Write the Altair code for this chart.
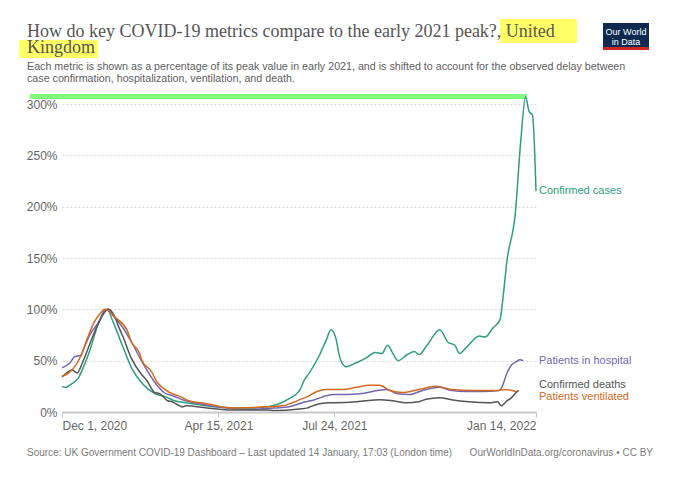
import altair as alt
import pandas as pd

# ---------------- data ----------------
series_names = ["Confirmed cases", "Patients in hospital", "Confirmed deaths", "Patients ventilated"]
series_colors = ["#2f9e83", "#7467b0", "#555555", "#d4691f"]

cases_dates = ["2020-12-01", "2020-12-04", "2020-12-10", "2020-12-15", "2020-12-21", "2020-12-25",
               "2021-01-01", "2021-01-07", "2021-01-09", "2021-01-14", "2021-01-22", "2021-01-30",
               "2021-02-08", "2021-02-19", "2021-02-28", "2021-03-08", "2021-03-18", "2021-03-30",
               "2021-04-13", "2021-04-27", "2021-05-16", "2021-05-27", "2021-06-04", "2021-06-15",
               "2021-06-24", "2021-06-28", "2021-07-03", "2021-07-11", "2021-07-17", "2021-07-21",
               "2021-07-25", "2021-07-29", "2021-08-03", "2021-08-12", "2021-08-21", "2021-08-28",
               "2021-09-03", "2021-09-08", "2021-09-12", "2021-09-17", "2021-09-25", "2021-10-01",
               "2021-10-05", "2021-10-12", "2021-10-23", "2021-10-30", "2021-11-05", "2021-11-09",
               "2021-11-15", "2021-11-26", "2021-12-01", "2021-12-08", "2021-12-14", "2021-12-16",
               "2021-12-20", "2021-12-27", "2022-01-01", "2022-01-05", "2022-01-08", "2022-01-11",
               "2022-01-14"]
cases_vals = [25, 24, 28, 33, 48, 60,
              85, 99, 100, 88, 65, 43,
              28, 18, 15, 11, 9, 7,
              5, 4, 4, 5, 7, 13,
              21, 31, 39, 55, 70, 80,
              73, 52, 44, 48, 53, 58,
              57, 65, 58, 50, 56, 59,
              56, 65, 80, 68, 65, 57,
              63, 74, 73, 82, 90, 106,
              148, 192, 266, 307, 293, 289,
              215]

hosp_dates = ["2020-12-01", "2020-12-08", "2020-12-12", "2020-12-17", "2020-12-21", "2020-12-25",
              "2021-01-03", "2021-01-07", "2021-01-10", "2021-01-14", "2021-01-22", "2021-01-31",
              "2021-02-08", "2021-02-19", "2021-02-27", "2021-03-06", "2021-03-15", "2021-03-30",
              "2021-04-13", "2021-05-12", "2021-06-02", "2021-06-15", "2021-06-26", "2021-07-07",
              "2021-07-18", "2021-07-23", "2021-08-03", "2021-08-17", "2021-08-30", "2021-09-07",
              "2021-09-16", "2021-09-27", "2021-10-08", "2021-10-23", "2021-11-02", "2021-11-15",
              "2021-11-29", "2021-12-13", "2021-12-15", "2021-12-20", "2021-12-24", "2021-12-28",
              "2021-12-31", "2022-01-03"]
hosp_vals = [43, 48, 54, 55, 65, 75,
             90, 99, 100, 94, 83, 66,
             49, 29, 19, 16, 12, 8,
             5, 2.5, 4, 5, 9, 12,
             16, 17, 17, 18, 21, 22,
             18, 17, 21, 24, 21, 20,
             20, 21, 23, 38, 46, 49,
             51, 50]

deaths_dates = ["2020-12-01", "2020-12-10", "2020-12-14", "2020-12-19", "2020-12-27", "2021-01-03",
                "2021-01-10", "2021-01-14", "2021-01-20", "2021-01-22", "2021-01-30", "2021-02-08",
                "2021-02-12", "2021-02-19", "2021-02-23", "2021-03-02", "2021-03-06", "2021-03-15",
                "2021-03-18", "2021-04-05", "2021-04-27", "2021-05-27", "2021-06-02", "2021-06-24",
                "2021-07-01", "2021-07-03", "2021-07-20", "2021-07-24", "2021-08-12", "2021-08-20",
                "2021-09-01", "2021-09-12", "2021-09-24", "2021-10-05", "2021-10-11", "2021-10-23",
                "2021-11-02", "2021-11-17", "2021-12-05", "2021-12-12", "2021-12-15", "2021-12-20",
                "2021-12-24", "2021-12-27", "2021-12-30"]
deaths_vals = [34, 41, 38, 49, 72, 90,
               100, 96, 80, 75, 52, 36,
               31, 19, 18, 11, 10, 5,
               6, 4, 2, 2, 1.5, 3,
               4, 5, 9, 9, 10, 11,
               12, 11, 9, 10, 12.5, 14,
               12, 10, 9, 10, 6, 11,
               14, 18, 21]

vent_dates = ["2020-12-01", "2020-12-04", "2020-12-17", "2020-12-23", "2020-12-29", "2021-01-03",
              "2021-01-07", "2021-01-16", "2021-01-26", "2021-01-30", "2021-02-06", "2021-02-08",
              "2021-02-17", "2021-02-19", "2021-03-01", "2021-03-15", "2021-03-18", "2021-04-05",
              "2021-04-27", "2021-05-27", "2021-06-09", "2021-06-20", "2021-06-24", "2021-07-01",
              "2021-07-09", "2021-07-17", "2021-07-31", "2021-08-12", "2021-08-23", "2021-09-01",
              "2021-09-10", "2021-09-21", "2021-10-05", "2021-10-20", "2021-11-02", "2021-11-23",
              "2021-12-11", "2021-12-18", "2021-12-28"]
vent_vals = [35, 36, 54, 72, 88, 96,
             100, 92, 80, 68, 57, 50,
             38, 33, 21, 14, 12, 8,
             4, 5, 6, 10, 12, 15,
             20, 22, 22, 24, 26, 26,
             21, 19, 22, 25, 22, 21,
             21, 22, 20]

label_dy = [0, 0, -5, 6]

x_ticks = [(2020, 12, 1), (2021, 4, 15), (2021, 7, 24), (2022, 1, 14)]
y_ticks = [0, 50, 100, 150, 200, 250, 300]

title_line1 = "How do key COVID-19 metrics compare to the early 2021 peak?, United"
title_line2 = "Kingdom"
subtitle_lines = [
    "Each metric is shown as a percentage of its peak value in early 2021, and is shifted to account for the observed delay between",
    "case confirmation, hospitalization, ventilation, and death.",
]
source_text = "Source: UK Government COVID-19 Dashboard \u2013 Last updated 14 January, 17:03 (London time)"
url_text = "OurWorldInData.org/coronavirus \u2022 CC BY"

# ---------------- build tables ----------------
rows = []
for name, ds, vs in [
    (series_names[0], cases_dates, cases_vals),
    (series_names[1], hosp_dates, hosp_vals),
    (series_names[2], deaths_dates, deaths_vals),
    (series_names[3], vent_dates, vent_vals),
]:
    for d, v in zip(ds, vs):
        rows.append({"date": d, "value": v, "series": name})
df = pd.DataFrame(rows)

last_vals = [cases_vals[-1], hosp_vals[-1], deaths_vals[-1], vent_vals[-1]]
end_date = "%04d-%02d-%02d" % x_ticks[-1]

W, H = 474, 308
FONT = "Liberation Sans"

x_dom = [alt.DateTime(year=x_ticks[0][0], month=x_ticks[0][1], date=x_ticks[0][2], utc=True),
         alt.DateTime(year=x_ticks[-1][0], month=x_ticks[-1][1], date=x_ticks[-1][2], utc=True)]
x_vals = [alt.DateTime(year=y, month=m, date=d, utc=True) for (y, m, d) in x_ticks]

x_enc = alt.X("date:T",
              scale=alt.Scale(type="utc", domain=x_dom),
              axis=alt.Axis(values=x_vals, labelExpr="utcFormat(datum.value, '%b %-d, %Y')",
                            grid=False, domainColor="#c8c8c8", domainWidth=2,
                            tickColor="#c8c8c8", tickSize=5, tickWidth=1,
                            labelFlush=True, labelPadding=3, labelFontSize=12,
                            labelColor="#666666", labelFont=FONT, title=None))
y_enc = alt.Y("value:Q",
              scale=alt.Scale(domain=[0, 300], nice=False),
              axis=alt.Axis(values=y_ticks, labelExpr="datum.value + '%'",
                            grid=True, gridDash=[2, 2], gridColor="#d6d6d6",
                            domain=False, ticks=False, labelPadding=5,
                            labelFontSize=12, labelColor="#666666", labelFont=FONT,
                            title=None))
color_enc = alt.Color("series:N", scale=alt.Scale(domain=series_names, range=series_colors), legend=None)

one = pd.DataFrame({"a": [0]})


def rect(x1, x2, y1, y2, color):
    return alt.Chart(one).mark_rect(color=color).encode(
        x=alt.value(x1), x2=alt.value(x2), y=alt.value(y1), y2=alt.value(y2))


def text(t, x, y, size, color, font=FONT, align="left", baseline="alphabetic"):
    return alt.Chart(one).mark_text(text=t, fontSize=size, color=color, font=font,
                                    align=align, baseline=baseline).encode(
        x=alt.value(x), y=alt.value(y))


layers = []
# highlights
layers.append(rect(438, 515, -85, -61, "#ffff66"))
layers.append(rect(-43, 36, -64, -46, "#ffff66"))
# title
layers.append(text(title_line1, -35, -67, 18, "#555555", font="Liberation Serif"))
layers.append(text(title_line2, -35, -51, 18, "#555555", font="Liberation Serif"))
# subtitle
layers.append(text(subtitle_lines[0], -35, -34, 10.7, "#5e5e5e"))
layers.append(text(subtitle_lines[1], -35, -22, 10.7, "#5e5e5e"))
# logo
layers.append(rect(541, 587, -81, -54, "#0e2a51"))
layers.append(rect(541, 587, -57, -54, "#c8281f"))
layers.append(text("Our World", 564, -69, 9, "#ffffff", align="center"))
layers.append(text("in Data", 564, -59, 9, "#ffffff", align="center"))

# base chart (axes + lines)
base = alt.Chart(df).mark_line(strokeWidth=1.5, interpolate="monotone").encode(
    x=x_enc, y=y_enc, color=color_enc, detail="series:N")

# green highlight bar near the top
layers.append(rect(-32, 465, -10, -5, "#80fb7c"))
layers.append(base)

# end labels
for name, col, lv, dy in zip(series_names, series_colors, last_vals, label_dy):
    ldf = pd.DataFrame({"date": [end_date], "value": [lv], "series": [name]})
    layers.append(alt.Chart(ldf).mark_text(align="left", baseline="middle", dx=3, dy=dy,
                                           fontSize=11, font=FONT, color=col).encode(
        x=alt.X("date:T"), y=alt.Y("value:Q"), text="series:N"))

# footer
layers.append(text(source_text, -35, 352, 10, "#7a7a7a"))
layers.append(text(url_text, 591, 352, 10, "#7a7a7a", align="right"))

chart = alt.layer(*layers).properties(
    width=W, height=H,
    autosize=alt.AutoSizeParams(type="none"),
    padding={"left": 54, "top": 96, "right": 125, "bottom": 52},
    background="#ffffff",
).configure_view(stroke=None)

chart.save("out.html", embed_options={"renderer": "svg", "actions": False})
